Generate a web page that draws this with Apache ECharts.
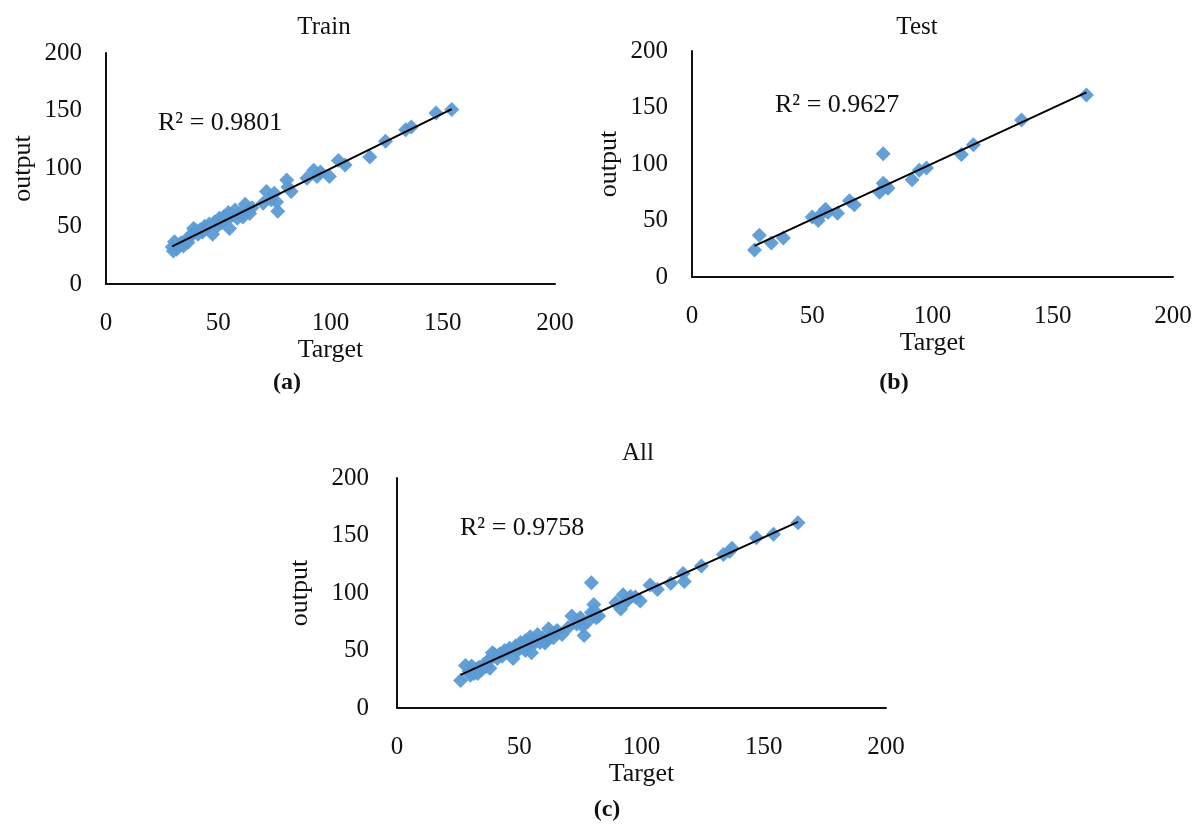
<!DOCTYPE html>
<html>
<head>
<meta charset="utf-8">
<script src="https://cdn.jsdelivr.net/npm/echarts@6/dist/echarts.min.js"></script>
<style>
html, body { margin:0; padding:0; background:#fff; }
#chart { width:1199px; height:824px; }
</style>
</head>
<body>
<div id="chart"></div>
<script>
// values: [Target, output]
var trainData = [
	[29.5, 32], [30, 28.5], [30.5, 36.5], [31.5, 30], [32.5, 34], [33.5, 35.5], [34.5, 33], [35.5, 38],
	[36.5, 36], [37.5, 41], [38.5, 44], [39, 48], [40, 46.5], [41, 43], [42, 47], [43, 45], [44, 50],
	[45, 49], [46, 52], [47.5, 43], [48.5, 54], [49.5, 50], [50.5, 57], [51.5, 53], [52.5, 58.5],
	[53.5, 56], [54.5, 62], [55, 48], [56, 59], [57.5, 64], [58.5, 57], [59.5, 61], [61, 58], [62, 69],
	[63, 63], [64, 61], [65, 66], [70, 70], [71.5, 80], [73.5, 73], [75, 78.5], [76, 71], [76.5, 63],
	[80.5, 90], [81, 84], [82.5, 80], [89.5, 91.5], [92.5, 98.5], [94, 93], [95.5, 97], [99.5, 93],
	[103.5, 107], [106.5, 103], [117.5, 110], [124.5, 123.5], [133.5, 133.5], [136, 136], [147, 148], [154, 151]
];
var testData = [
	[26, 24], [28, 37], [33, 30], [38, 34.5], [50, 53], [52.5, 50], [53.5, 55], [55.5, 60], [56.5, 57],
	[60.5, 56.5], [65.5, 67.5], [67.5, 64], [78, 75], [79.5, 109], [79.5, 83], [80.5, 81], [81.5, 78.5],
	[91.5, 86], [94.5, 94.5], [97.5, 96.5], [112, 108.5], [117, 117], [137, 139], [164, 161]
];
var allData = trainData.concat(testData);

var panelTitles = ['Train', 'Test', 'All'];
var panelLetters = ['(a)', '(b)', '(c)'];
var r2Labels = ['R\u00b2 = 0.9801', 'R\u00b2 = 0.9627', 'R\u00b2 = 0.9758'];

var serif = "'Liberation Serif', 'Times New Roman', serif";
var dotColor = '#5b9bd5';

// grid boxes in pixels: left, top, width, height
var boxes = [
	[106, 53, 449, 231],
	[692, 51, 481, 226],
	[397, 478, 489, 230]
];
var yNameGap = [70, 70, 84];
var yLabelMargin = [24, 24, 28];

function trend(data){
	var n = data.length, sx = 0, sy = 0, sxx = 0, sxy = 0;
	var minX = Infinity, maxX = -Infinity;
	for (var i = 0; i < n; i++) {
		sx += data[i][0]; sy += data[i][1];
		sxx += data[i][0] * data[i][0]; sxy += data[i][0] * data[i][1];
		if (data[i][0] < minX) minX = data[i][0];
		if (data[i][0] > maxX) maxX = data[i][0];
	}
	var b = (n * sxy - sx * sy) / (n * sxx - sx * sx);
	var a = (sy - b * sx) / n;
	return [[minX, a + b * minX], [maxX, a + b * maxX]];
}

var sets = [trainData, testData, allData];
var grids = [], xAxes = [], yAxes = [], series = [], graphics = [];

for (var k = 0; k < 3; k++) {
	var bx = boxes[k];
	grids.push({ left : bx[0], top : bx[1], width : bx[2], height : bx[3] });
	xAxes.push({
		gridIndex : k, type : 'value', min : 0, max : 200, interval : 50,
		name : 'Target', nameLocation : 'middle', nameGap : 50,
		nameTextStyle : { fontFamily : serif, fontSize : 26, color : '#111' },
		axisLine : { lineStyle : { color : '#111', width : 2 } },
		axisTick : { show : false },
		splitLine : { show : false },
		axisLabel : { margin : 27, fontFamily : serif, fontSize : 25, color : '#111' }
	});
	yAxes.push({
		gridIndex : k, type : 'value', min : 0, max : 200, interval : 50,
		name : 'output', nameLocation : 'middle', nameGap : yNameGap[k], nameRotate : 90,
		nameTextStyle : { fontFamily : serif, fontSize : 26, color : '#111' },
		axisLine : { show : true, lineStyle : { color : '#111', width : 2 } },
		axisTick : { show : false },
		splitLine : { show : false },
		axisLabel : { margin : yLabelMargin[k], fontFamily : serif, fontSize : 25, color : '#111' }
	});
	series.push({
		type : 'scatter', xAxisIndex : k, yAxisIndex : k,
		symbol : 'diamond', symbolSize : 15,
		itemStyle : { color : dotColor, opacity : 0.95 },
		data : sets[k], z : 2
	});
	series.push({
		type : 'line', xAxisIndex : k, yAxisIndex : k,
		showSymbol : false, silent : true,
		lineStyle : { color : '#000', width : 2 },
		data : trend(sets[k]), z : 3
	});
}

var titlePos = [[324, 27], [917, 27], [638, 453]];
var letterPos = [[287, 383], [894, 383], [607, 810]];
var r2Pos = [[158, 123], [775, 105], [460, 528]];
for (var j = 0; j < 3; j++) {
	graphics.push({ type : 'text', x : titlePos[j][0], y : titlePos[j][1],
		style : { text : panelTitles[j], fontFamily : serif, fontSize : 25, fill : '#111', textAlign : 'center', textVerticalAlign : 'middle' } });
	graphics.push({ type : 'text', x : letterPos[j][0], y : letterPos[j][1],
		style : { text : panelLetters[j], fontFamily : serif, fontSize : 24, fontWeight : 'bold', fill : '#111', textAlign : 'center', textVerticalAlign : 'middle' } });
	graphics.push({ type : 'text', x : r2Pos[j][0], y : r2Pos[j][1],
		style : { text : r2Labels[j], fontFamily : serif, fontSize : 26, fill : '#111', textAlign : 'left', textVerticalAlign : 'middle' } });
}

var myChart = echarts.init(document.getElementById('chart'));
myChart.setOption({
	animation : false,
	backgroundColor : '#fff',
	grid : grids,
	xAxis : xAxes,
	yAxis : yAxes,
	series : series,
	graphic : graphics
});
</script>
</body>
</html>
